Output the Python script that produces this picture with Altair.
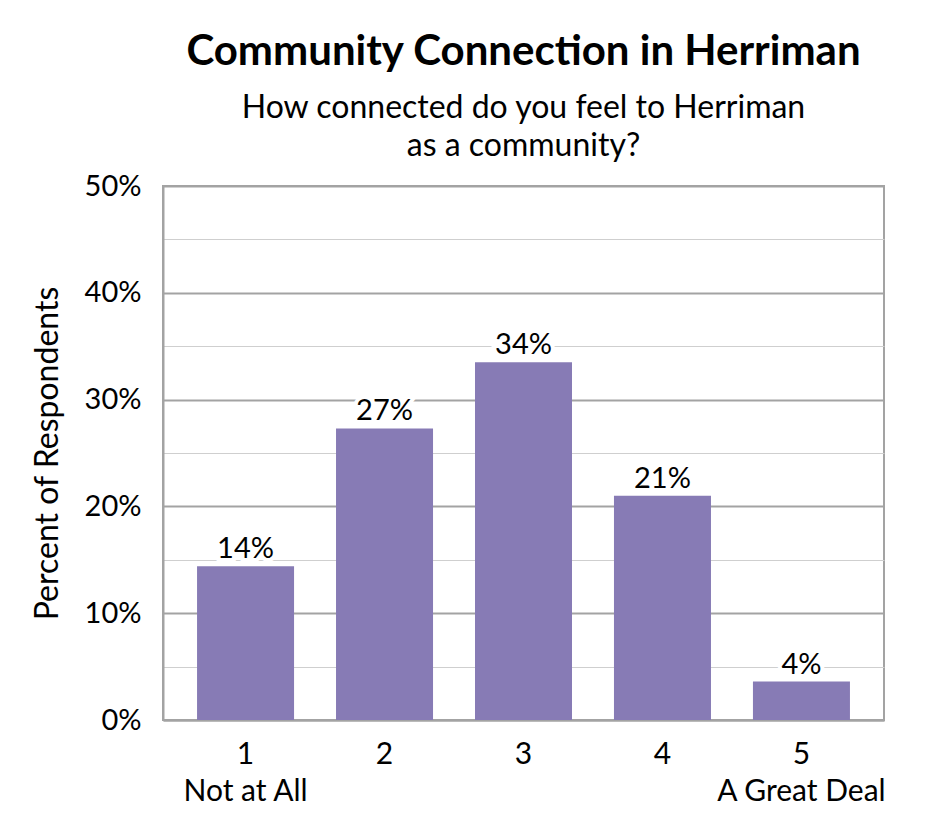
import altair as alt
import pandas as pd

# Data
categories = ["1", "2", "3", "4", "5"]
anchors = ["Not at All", "", "", "", "A Great Deal"]
percents = [14.4, 27.3, 33.5, 21.0, 3.6]
value_labels = ["14%", "27%", "34%", "21%", "4%"]

df = pd.DataFrame({"cat": categories, "pct": percents, "lbl": value_labels})

FONT = "Lato"
BAR = "#877BB5"
GRID_MAJOR = "#A3A3A3"
GRID_MINOR = "#CFCFCF"

# two-line tick labels for the anchored ends of the scale
label_expr = "datum.value"
for c, a in zip(categories, anchors):
    if a:
        label_expr = f"datum.value == '{c}' ? ['{c}', '{a}'] : " + label_expr

xenc = alt.X("cat:N", sort=categories, title=None,
             scale=alt.Scale(paddingInner=0.302, paddingOuter=0.245),
             axis=alt.Axis(labelAngle=0, labelExpr=label_expr, ticks=False,
                           labelPadding=19, labelLineHeight=37, labelFontSize=30,
                           labelFont=FONT, labelColor="black",
                           domainColor=GRID_MAJOR, domainWidth=2))

yenc = alt.Y("pct:Q", title="Percent of Respondents",
             scale=alt.Scale(domain=[0, 50], nice=False),
             axis=alt.Axis(values=list(range(0, 55, 5)),
                           labelExpr="datum.value % 10 == 0 ? datum.value + '%' : ''",
                           ticks=False, labelPadding=22, labelFontSize=29,
                           labelFont=FONT, labelColor="black",
                           titleFont=FONT, titleFontSize=32, titleFontWeight="normal",
                           titleColor="black", titlePadding=20,
                           domainColor=GRID_MAJOR, domainWidth=2,
                           gridColor={"condition": {"test": "datum.value % 10 == 0", "value": GRID_MAJOR},
                                      "value": GRID_MINOR},
                           gridWidth={"condition": {"test": "datum.value % 10 == 0", "value": 2},
                                      "value": 1}))

base = alt.Chart(df)

bars = base.mark_bar(color=BAR).encode(x=xenc, y=yenc)

halo = base.mark_text(baseline="bottom", dy=-2, font=FONT, fontSize=29,
                      stroke="white", strokeWidth=8, color="white").encode(
    x=alt.X("cat:N", sort=categories), y="pct:Q", text="lbl:N")

labels = base.mark_text(baseline="bottom", dy=-2, font=FONT, fontSize=29,
                        color="black").encode(
    x=alt.X("cat:N", sort=categories), y="pct:Q", text="lbl:N")

chart = (bars + halo + labels).properties(
    width=721,
    height=534,
    autosize=alt.AutoSizeParams(type="none"),
    padding={"left": 155, "top": 178, "right": 53, "bottom": 112},
    title=alt.TitleParams(
        "Community Connection in Herriman",
        subtitle=["How connected do you feel to Herriman", "as a community?"],
        font=FONT, fontSize=42, fontWeight="bold", color="black",
        subtitleFont=FONT, subtitleFontSize=32, subtitleColor="black",
        subtitleLineHeight=38, subtitlePadding=19,
        anchor="middle", offset=9,
    ),
).configure_view(stroke=GRID_MAJOR, strokeWidth=2)

chart.save("out.html", embed_options={"renderer": "svg", "actions": False})
